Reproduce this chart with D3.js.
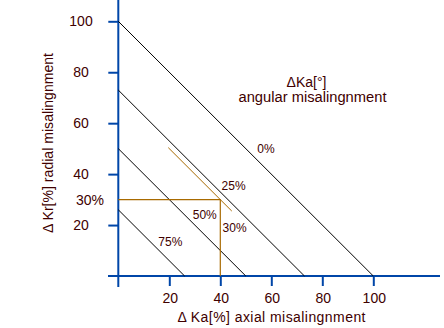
<!DOCTYPE html>
<meta charset="utf-8" />
<head>
  <script src="https://d3js.org/d3.v7.min.js"></script>
  <style>
    body { margin: 0; background: #fff; }
    text { font-family: "Liberation Sans", Arial, sans-serif; fill: #400000; }
  </style>
</head>
<body>
  <div id="chart"></div>
</body>
<script>
  // chart values
  const xTicks = [20, 40, 60, 80, 100];
  const yTicks = [20, 40, 60, 80, 100];
  const lineSums = [100, 73, 50, 26];            // x + y = sum for each angular curve
  const lineLabels = ["0%", "25%", "50%", "75%"];
  const labelX = [54.5, 40.5, 29.2, 15.7];
  const labelY = [48.2, 33.7, 22.4, 11.8];
  const example = { x: 40, y: 30, sum: 70, from: 19.6, to: 44.5 };
  const exampleLabel = "30%";

  const W = 444, H = 328;
  const blue = "#0046a8", orange = "#a86a00";

  const svg = d3.select("#chart").append("svg")
    .attr("width", W).attr("height", H);

  const x = d3.scaleLinear().domain([0, 100]).range([118.3, 373.3]);
  const y = d3.scaleLinear().domain([0, 100]).range([276, 21.3]);

  // axis lines
  svg.append("line")
    .attr("x1", x(0)).attr("x2", x(0)).attr("y1", 0).attr("y2", 287)
    .attr("stroke", blue).attr("stroke-width", 2);
  svg.append("line")
    .attr("x1", 108).attr("x2", 440).attr("y1", y(0)).attr("y2", y(0))
    .attr("stroke", blue).attr("stroke-width", 2);

  // ticks
  const yAxis = svg.append("g")
    .attr("transform", "translate(" + x(0) + ",0)")
    .call(d3.axisLeft(y).tickValues(yTicks).tickSize(10).tickPadding(0).tickFormat(() => ""));
  const xAxis = svg.append("g")
    .attr("transform", "translate(0," + y(0) + ")")
    .call(d3.axisBottom(x).tickValues(xTicks).tickSize(10).tickFormat(() => ""));
  [xAxis, yAxis].forEach(g => {
    g.select(".domain").remove();
    g.selectAll(".tick line").attr("stroke", blue).attr("stroke-width", 2);
  });

  // tick labels
  svg.selectAll(".ylab").data(yTicks).enter().append("text")
    .attr("x", 81).attr("y", d => y(d) + 5)
    .attr("text-anchor", "middle").style("font-size", "14px")
    .text(d => d);
  svg.selectAll(".xlab").data(xTicks).enter().append("text")
    .attr("x", d => x(d) + 1).attr("y", 303)
    .attr("text-anchor", "middle").style("font-size", "14px")
    .text(d => d);
  svg.append("text")
    .attr("x", 76).attr("y", y(example.y) + 5)
    .style("font-size", "14px")
    .text(example.y + "%");

  // diagonal lines
  svg.selectAll(".diag").data(lineSums).enter().append("line")
    .attr("x1", x(0)).attr("y1", d => y(d))
    .attr("x2", d => x(d)).attr("y2", y(0))
    .attr("stroke", "#000").attr("stroke-width", 1);

  svg.selectAll(".dlab").data(lineLabels).enter().append("text")
    .attr("x", (d, i) => x(labelX[i])).attr("y", (d, i) => y(labelY[i]))
    .style("font-size", "12px")
    .text(d => d);

  // example guide (orange)
  svg.append("path")
    .attr("d", "M" + x(0) + "," + y(example.y) + "H" + x(example.x) + "V" + y(0))
    .attr("fill", "none").attr("stroke", orange).attr("stroke-width", 1.2);
  svg.append("line")
    .attr("x1", x(example.from)).attr("y1", y(example.sum - example.from))
    .attr("x2", x(example.to)).attr("y2", y(example.sum - example.to))
    .attr("stroke", orange).attr("stroke-width", 1);
  svg.append("text")
    .attr("x", x(40.9)).attr("y", y(17.4))
    .style("font-size", "12px")
    .text(exampleLabel);

  // titles
  svg.append("text")
    .attr("x", 306.5).attr("y", 86.7).attr("text-anchor", "middle")
    .style("font-size", "14px")
    .text("ΔKa[°]");
  svg.append("text")
    .attr("x", 312.5).attr("y", 101.5).attr("text-anchor", "middle")
    .style("font-size", "14px")
    .attr("textLength", 148).attr("lengthAdjust", "spacingAndGlyphs")
    .text("angular misalingnment");

  svg.append("text")
    .attr("x", 271.5).attr("y", 321.5).attr("text-anchor", "middle")
    .style("font-size", "14px")
    .attr("textLength", 188).attr("lengthAdjust", "spacing")
    .text("Δ Ka[%] axial misalingnment");

  svg.append("text")
    .attr("transform", "translate(52.5,143) rotate(-90)")
    .attr("text-anchor", "middle")
    .style("font-size", "14px")
    .attr("textLength", 180).attr("lengthAdjust", "spacing")
    .text("Δ Kr[%] radial misalingnment");
</script>
